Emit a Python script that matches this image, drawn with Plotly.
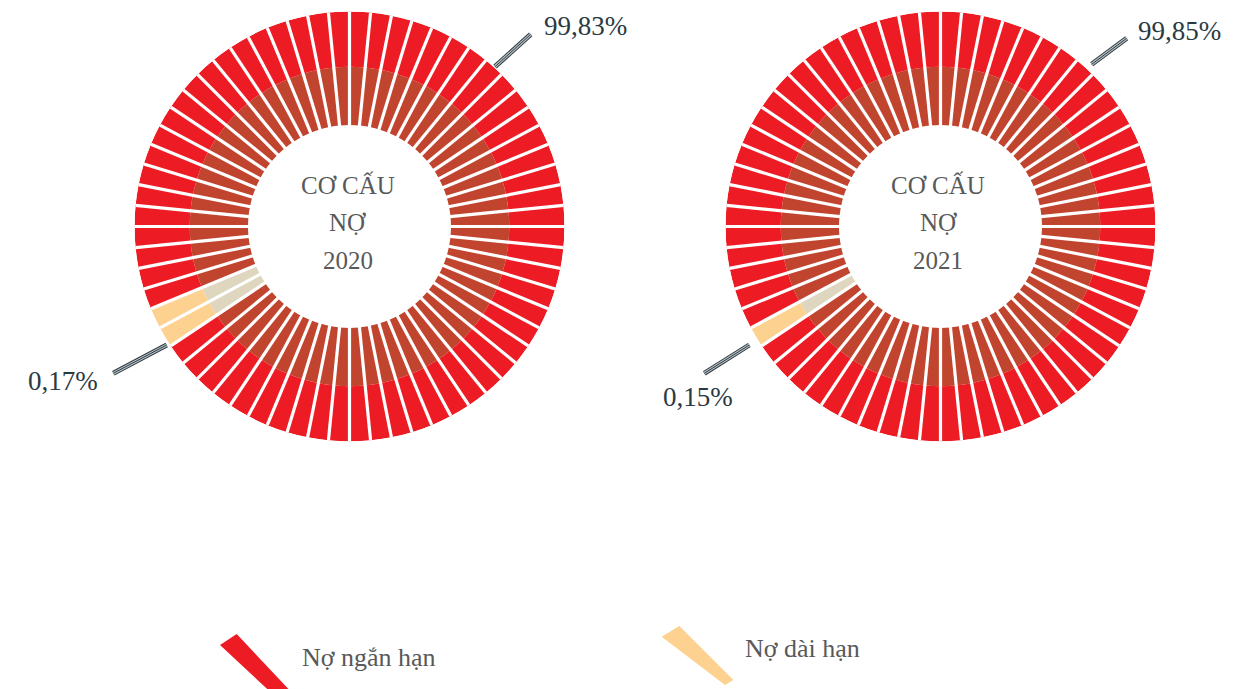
import plotly.graph_objects as go

# ---------------- data ----------------
years = ["2020", "2021"]
short_term_pct = [99.83, 99.85]          # Nợ ngắn hạn
long_term_pct = [0.17, 0.15]             # Nợ dài hạn
long_term_segment_idx = [[36, 37], [37]]  # segments painted as long-term debt
center_title = ["CƠ CẤU", "NỢ"]
legend_labels = ["Nợ ngắn hạn", "Nợ dài hạn"]

# ---------------- style ----------------
W, H = 1252, 689
N_SEG = 64
R_PX = 215
R_INNER, R_MID, R_OUTER = 0.472, 0.743, 1.0
RED, DARK = "#ED1C24", "#C1442F"
PALE, BEIGE = "#FDD18F", "#DED6BE"
TXT_GRAY, TXT_DARK = "#595959", "#2B3A42"
SERIF = "Liberation Serif, Times New Roman, serif"
centers = [(349.5, 226.5), (940.5, 226.5)]


def px(x):
    return x / W


def py(y):
    return 1 - y / H


seg_w = 360 / N_SEG
thetas = [(k + 0.5) * seg_w for k in range(N_SEG)]

fig = go.Figure()
layout_polars = {}
for i, yr in enumerate(years):
    pid = "polar" if i == 0 else f"polar{i + 1}"
    outer_cols = [PALE if k in long_term_segment_idx[i] else RED for k in range(N_SEG)]
    inner_cols = [BEIGE if k in long_term_segment_idx[i] else DARK for k in range(N_SEG)]
    fig.add_trace(go.Barpolar(
        r=[R_MID - R_INNER] * N_SEG, base=R_INNER, theta=thetas, width=seg_w,
        marker=dict(color=inner_cols, line=dict(width=0)), subplot=pid,
        showlegend=False, hoverinfo="skip"))
    fig.add_trace(go.Barpolar(
        r=[R_OUTER - R_MID] * N_SEG, base=R_MID, theta=thetas, width=seg_w,
        marker=dict(color=outer_cols, line=dict(width=0)), subplot=pid,
        showlegend=False, hoverinfo="skip"))
    # white separators between segments
    rr, tt = [], []
    for b in range(N_SEG):
        rr += [R_INNER * 0.97, R_OUTER, None]
        tt += [b * seg_w, b * seg_w, None]
    fig.add_trace(go.Scatterpolar(
        r=rr, theta=tt, mode="lines", line=dict(color="white", width=3.2),
        subplot=pid, showlegend=False, hoverinfo="skip"))

    cx, cy = centers[i]
    layout_polars[pid] = dict(
        domain=dict(x=[px(cx - R_PX), px(cx + R_PX)], y=[py(cy + R_PX), py(cy - R_PX)]),
        bgcolor="rgba(0,0,0,0)", bargap=0, hole=0,
        radialaxis=dict(visible=False, range=[0, 1]),
        angularaxis=dict(visible=False, rotation=0, direction="counterclockwise"),
    )
    # centre text
    for j, t in enumerate(center_title + [yr]):
        fig.add_annotation(x=px(cx - 2), y=py(185 + j * 37.5), xref="paper", yref="paper",
                           text=t, showarrow=False, xanchor="center", yanchor="middle",
                           font=dict(family=SERIF, size=25, color=TXT_GRAY))

fig.update_layout(**layout_polars)

# percentage labels
fmt = lambda v: f"{v:.2f}%".replace(".", ",")
label_pos = [
    [(585, 26), (63, 381)],
    [(1179, 31), (697.5, 397)],
]
for i in range(len(years)):
    for (lx, ly), v in zip(label_pos[i], [short_term_pct[i], long_term_pct[i]]):
        fig.add_annotation(x=px(lx), y=py(ly), xref="paper", yref="paper", text=fmt(v),
                           showarrow=False, xanchor="center", yanchor="middle",
                           font=dict(family=SERIF, size=27, color=TXT_DARK))

# leader lines (striped double line)
leaders = [((495, 66.7), (530.7, 34.3)), ((113.3, 373.3), (166.7, 345)),
           ((1091.7, 64.3), (1126.7, 38.3)), ((704.3, 373.3), (749.3, 345))]
for (x0, y0), (x1, y1) in leaders:
    for wdt, col in [(5, "#2F3D44"), (3, "#B8C0C4"), (1, "#2F3D44")]:
        fig.add_shape(type="line", xref="paper", yref="paper",
                      x0=px(x0), y0=py(y0), x1=px(x1), y1=py(y1),
                      line=dict(color=col, width=wdt))

# legend icons (wedges) and labels
wedges = [
    ([(220, 645), (236.7, 634), (296, 697), (279, 700)], RED),
    ([(661.7, 636.7), (679.3, 626), (733.3, 680), (725, 685)], PALE),
]
for pts, col in wedges:
    path = "M " + " L ".join(f"{px(x)},{py(y)}" for x, y in pts) + " Z"
    fig.add_shape(type="path", xref="paper", yref="paper", path=path,
                  fillcolor=col, line=dict(width=0))
for (tx, ty), lab in zip([(300, 657), (743, 648)], legend_labels):
    fig.add_annotation(x=px(tx), y=py(ty), xref="paper", yref="paper", text=lab,
                       showarrow=False, xanchor="left", yanchor="middle",
                       font=dict(family=SERIF, size=26, color=TXT_GRAY))

fig.update_layout(width=W, height=H, margin=dict(l=0, r=0, t=0, b=0),
                  paper_bgcolor="white", plot_bgcolor="white", showlegend=False)
fig.write_html("out.html", config={"displayModeBar": False},
               post_script="document.body.style.margin='0px';document.body.style.overflow='hidden';")
